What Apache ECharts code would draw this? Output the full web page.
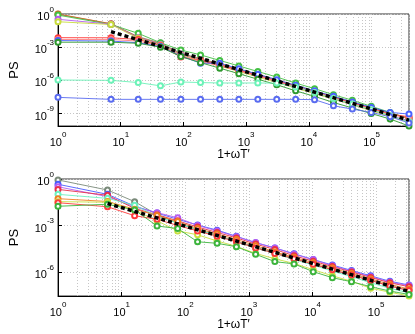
<!DOCTYPE html>
<html>
<head>
<meta charset="utf-8">
<script src="https://cdn.jsdelivr.net/npm/echarts@6/dist/echarts.min.js"></script>
<style>
html, body { margin: 0; padding: 0; background: #fff; }
#chart { width: 415px; height: 334px; }
</style>
</head>
<body>
<div id="chart"></div>
<script>
// x values (1 + omega T')
var topX = [1, 7, 19, 43, 91, 187, 379, 763, 1531, 3067, 6139, 12283, 24571, 49147, 98299, 196603, 393211];
var bottomX = [1, 6, 16, 36, 76, 156, 316, 636, 1276, 2556, 5116, 10236, 20476, 40956, 81916, 163836, 327676];

// PS values, stored as log10
var topGray = [-0.02, -0.9, -2.05, -2.62, -3.55, -4.05, -4.5, -5.0, -5.45, -5.95, -6.45, -6.95, -7.45, -7.95, -8.45, -8.95, -9.45];
var topOrange = [0, -0.88, -2.1, -2.7, -3.6, -4.1, -4.55, -5.05, -5.5, -6.0, -6.5, -7.0, -7.5, -8.0, -8.5, -9.0, -9.4];
var topGreen = [-0.1, -0.95, -1.75, -2.6, -3.26, -3.7, -4.2, -4.7, -5.2, -5.7, -6.25, -6.75, -7.3, -7.8, -8.35, -8.9, -9.5];
var topViolet = [-0.48, -0.92, -2.15, -2.75, -3.65, -4.15, -4.65, -5.1, -5.6, -6.1, -6.65, -7.15, -7.7, -8.2, -8.7, -9.2, -9.65];
var topYellow = [-0.7, -0.95, -2.2, -2.8, -3.7, -4.2, -4.7, -5.2, -5.7, -6.2, -6.7, -7.2, -7.7, -8.2, -8.75, -9.25, -9.8];
var topRed = [-2.14, -2.15, -2.3, -2.85, -3.9, -4.2, -4.6, -5.1, -5.55, -6.05, -6.55, -7.1, -7.55, -8.05, -8.55, -9.05, -9.3];
var topPink = [-2.3, -2.3, -2.45, -2.9, -3.75, -4.3, -4.7, -5.15, -5.6, -6.1, -6.6, -7.1, -7.6, -8.1, -8.6, -9.1, -9.4];
var topBlue = [-2.4, -2.45, -2.6, -2.95, -3.8, -4.45, -4.45, -4.95, -5.45, -5.95, -6.45, -6.95, -7.45, -7.95, -8.45, -8.9, -9.05];
var topDarkGreen = [-2.55, -2.55, -2.65, -3.0, -3.85, -4.4, -4.9, -5.4, -5.9, -6.4, -6.95, -7.45, -8.0, -8.5, -9.0, -9.5, -10.13];
var topAqua = [-5.97, -6.0, -6.2, -6.5, -6.15, -6.2, -6.24, -6.24, -6.24, -6.25, -6.6, -7.1, -7.65, -8.15, -8.65, -9.2, -9.75];
var topBlueLow = [-7.54, -7.72, -7.72, -7.72, -7.72, -7.72, -7.72, -7.72, -7.72, -7.72, -7.72, -7.75, -8.3, -8.6, -8.9, -9.3, -9.85];

var bottomGray = [-0.06, -0.71, -1.46, -2.3, -2.85, -3.3, -3.65, -4.0, -4.4, -4.75, -5.1, -5.5, -5.85, -6.2, -6.55, -6.9, -7.2];
var bottomBlue = [-0.34, -0.99, -1.75, -2.2, -2.6, -2.97, -3.3, -3.7, -4.11, -4.45, -4.82, -5.2, -5.55, -5.9, -6.25, -6.6, -6.84];
var bottomViolet = [-0.5, -1.14, -1.8, -2.17, -2.5, -3.0, -3.35, -3.72, -4.1, -4.45, -4.85, -5.2, -5.6, -5.95, -6.3, -6.65, -6.88];
var bottomRed = [-0.67, -1.05, -1.9, -2.3, -2.7, -3.1, -3.45, -3.8, -4.2, -4.55, -4.95, -5.3, -5.65, -6.0, -6.35, -6.7, -6.95];
var bottomAqua = [-0.99, -1.25, -1.7, -2.4, -2.85, -3.25, -3.65, -4.05, -4.45, -4.8, -5.2, -5.55, -5.95, -6.3, -6.7, -7.05, -7.35];
var bottomOrange = [-1.27, -1.45, -1.95, -2.35, -2.75, -3.2, -3.55, -3.9, -4.3, -4.7, -5.05, -5.4, -5.75, -6.1, -6.45, -6.8, -7.1];
var bottomYellow = [-1.46, -1.5, -2.0, -2.7, -3.35, -3.6, -4.0, -4.35, -4.8, -5.15, -5.45, -5.85, -6.25, -6.6, -7.05, -7.3, -7.55];
var bottomRed2 = [-1.53, -1.79, -2.37, -2.6, -3.0, -3.35, -3.7, -4.05, -4.45, -4.8, -5.15, -5.5, -5.85, -6.2, -6.55, -6.9, -7.2];
var bottomGreen = [-1.76, -1.63, -2.0, -3.03, -3.2, -4.05, -4.15, -4.37, -4.86, -5.33, -5.48, -5.98, -6.37, -6.63, -6.95, -7.23, -7.45];

// dashed reference lines (end points)
var topRefX = [7, 393211];
var topRefLog = [-1.6, -9.6];
var bottomRefX = [6, 327676];
var bottomRefLog = [-1.58, -7.26];

var topYMinLog = -10.13;
var bottomYMinLog = -7.55;

var topLines = [
    [topGray, '#8a8a8a'], [topOrange, '#d2691e'], [topGreen, '#44c044'], [topViolet, '#b45cf0'],
    [topYellow, '#c8dc3c'], [topRed, '#ff3a3a'], [topPink, '#ff7a7a'], [topBlue, '#4a62ff'],
    [topDarkGreen, '#2e9a2e'], [topAqua, '#6cf2b8'], [topBlueLow, '#5a6cf0']
];
var bottomLines = [
    [bottomGray, '#7a8a7a'], [bottomBlue, '#4a5cff'], [bottomViolet, '#b45cf0'], [bottomRed, '#e8304a'],
    [bottomAqua, '#6cf2c0'], [bottomOrange, '#f08020'], [bottomYellow, '#c8e040'], [bottomRed2, '#ff3a3a'],
    [bottomGreen, '#3cb43c']
];

function pairs(xs, logs) {
    return xs.map(function (x, i) { return [x, Math.pow(10, logs[i])]; });
}

var font = 'Liberation Sans, Arial, Helvetica, sans-serif';

function powLabel(value) {
    var e = Math.log10(value);
    var r = Math.round(e);
    if (Math.abs(e - r) > 1e-6) return '';
    return '{b|10}{e|' + r + '}';
}
var labelRich = {
    b: { fontSize: 11, fontFamily: font, color: '#000', verticalAlign: 'bottom', lineHeight: 17 },
    e: { fontSize: 8, fontFamily: font, color: '#000', verticalAlign: 'top', lineHeight: 9 }
};
var gridLine = { color: '#c6c6c6', type: [1, 2], width: 1 };

// minor grid positions 2..9 x 10^n
function minorMarks(xmax) {
    var out = [];
    for (var p = 1; p <= xmax; p *= 10) {
        for (var m = 2; m <= 9; m++) {
            if (m * p < xmax) out.push({ xAxis: m * p });
        }
    }
    return out;
}

function makeX(idx, xmax) {
    return {
        type: 'log', gridIndex: idx, logBase: 10, min: 1, max: xmax,
        axisLine: { lineStyle: { color: '#000', width: 1 } },
        axisTick: { inside: true, length: 4, lineStyle: { color: '#000' } },
        axisLabel: { formatter: powLabel, rich: labelRich, margin: 5, showMaxLabel: false },
        splitLine: { show: true, lineStyle: gridLine },
        name: '1+ωT′', nameLocation: 'middle', nameGap: 21,
        nameTextStyle: { fontFamily: font, fontSize: 12, color: '#000' }
    };
}
function makeY(idx, yminLog) {
    return {
        type: 'log', gridIndex: idx, logBase: 1000, min: Math.pow(10, yminLog), max: 1,
        axisLine: { lineStyle: { color: '#000', width: 1 } },
        axisTick: { inside: true, length: 4, lineStyle: { color: '#000' } },
        axisLabel: { formatter: powLabel, rich: labelRich, margin: 4, showMinLabel: false },
        splitLine: { show: true, lineStyle: gridLine },
        name: 'PS', nameLocation: 'middle', nameGap: 37, nameRotate: 90,
        nameTextStyle: { fontFamily: font, fontSize: 13, color: '#000' }
    };
}

var series = [];
function addPlot(idx, xs, lines, refX, refLog, xmax) {
    lines.forEach(function (l) {
        series.push({
            type: 'line', xAxisIndex: idx, yAxisIndex: idx,
            data: pairs(xs, l[0]),
            symbol: 'emptyCircle', symbolSize: 5, showSymbol: true,
            lineStyle: { color: l[1], width: 0.9 },
            itemStyle: { color: l[1], borderColor: l[1], borderWidth: 0.9 },
            z: 3
        });
    });
    series.push({
        type: 'line', xAxisIndex: idx, yAxisIndex: idx,
        data: pairs(refX, refLog),
        symbol: 'none',
        lineStyle: { color: '#000', width: 3.5, type: [4, 3] },
        z: 4,
        markLine: {
            silent: true, symbol: 'none', z: 1, label: { show: false },
            lineStyle: gridLine,
            data: minorMarks(xmax)
        }
    });
}
addPlot(0, topX, topLines, topRefX, topRefLog, 393211);
addPlot(1, bottomX, bottomLines, bottomRefX, bottomRefLog, 327676);

var chart = echarts.init(document.getElementById('chart'));
chart.setOption({
    animation: false,
    backgroundColor: '#fff',
    grid: [
        { left: 51, right: 6, top: 14, height: 112, show: true, borderColor: '#333', borderWidth: 1, containLabel: false },
        { left: 51, right: 6, top: 179, height: 117, show: true, borderColor: '#333', borderWidth: 1, containLabel: false }
    ],
    xAxis: [makeX(0, 393211), makeX(1, 327676)],
    yAxis: [makeY(0, topYMinLog), makeY(1, bottomYMinLog)],
    series: series
});
window.addEventListener('resize', function () { chart.resize(); });
</script>
</body>
</html>
